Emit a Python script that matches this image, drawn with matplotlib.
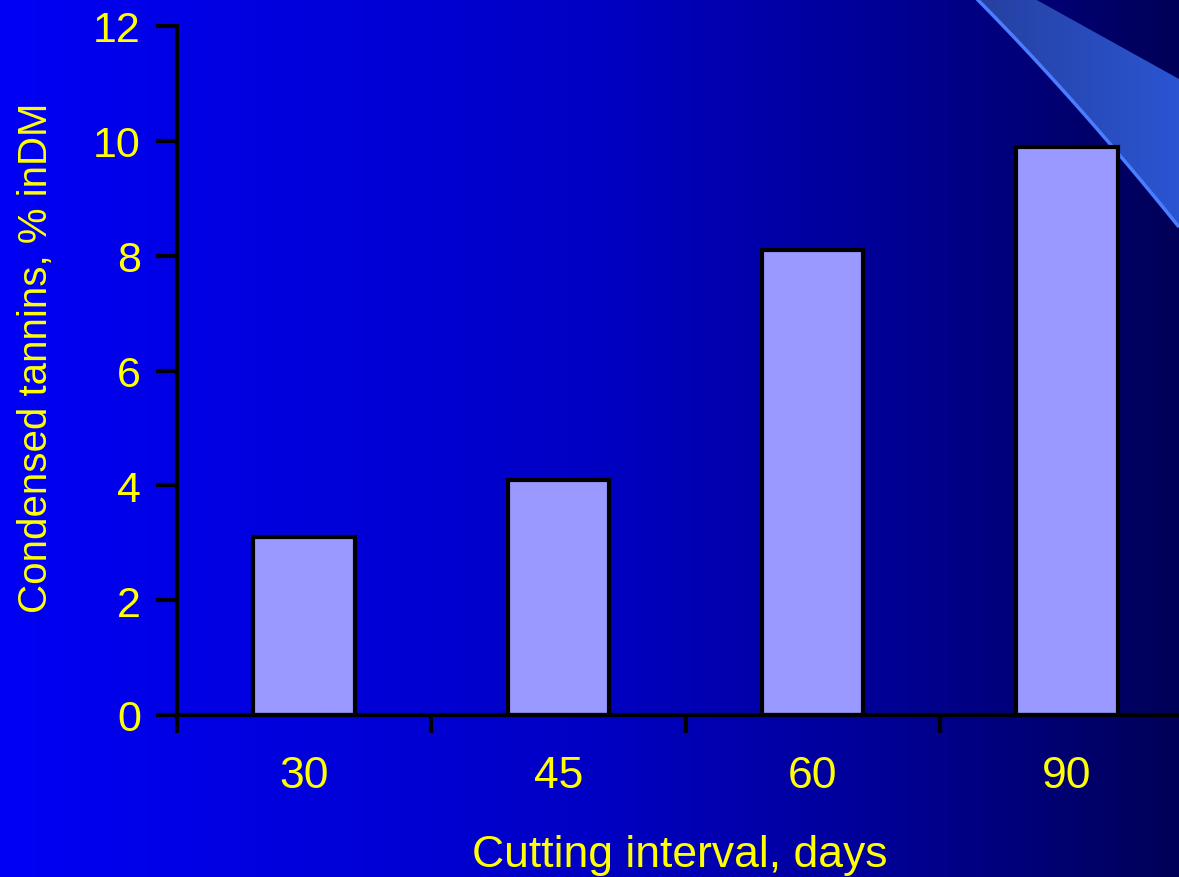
import numpy as np
import matplotlib.pyplot as plt
from matplotlib.colors import LinearSegmentedColormap
from matplotlib.patches import Polygon

plt.rcParams['font.family'] = ['Liberation Sans', 'DejaVu Sans']

intervals = ["30", "45", "60", "90"]
tannins = [3.1, 4.1, 8.1, 9.9]

W, H = 1179, 878
fig = plt.figure(figsize=(W / 100, H / 100), dpi=100)

# backdrop: horizontal blue gradient plus the swoosh in the corner
bg = fig.add_axes([0, 0, 1, 1], zorder=0)
bg.set_axis_off()
cmap = LinearSegmentedColormap.from_list(
    "slide", [(0.0, "#0000f5"), (0.5, "#0000c4"), (0.75, "#000096"), (1.0, "#000058")])
grad = np.linspace(0, 1, 512).reshape(1, -1)
bg.imshow(grad, cmap=cmap, aspect="auto", extent=[0, W, H, 0])

dx = np.linspace(0, 202, 60)
edge_x = 977 + dx
edge_y = 1.013 * dx + 0.000573 * dx ** 2
swoosh = Polygon(list(zip(edge_x, edge_y)) + [(1179, 80), (1035, 0)],
                 closed=True, facecolor="none", edgecolor="none")
bg.add_patch(swoosh)
sw_cmap = LinearSegmentedColormap.from_list("sw", ["#2640a0", "#2a55d2"])
sw = bg.imshow(np.linspace(0, 1, 128).reshape(1, -1), cmap=sw_cmap, aspect="auto",
               extent=[977, 1179, 228, 0])
sw.set_clip_path(swoosh)
bg.plot(edge_x, edge_y, color="#4a7dff", lw=2.5, solid_capstyle="butt")
bg.set_xlim(0, W)
bg.set_ylim(H, 0)

# bar chart
ax = fig.add_axes([177 / W, 1 - 716 / H, 1017 / W, 689 / H], zorder=1)
ax.patch.set_alpha(0)
x = np.arange(len(intervals))
ax.bar(x, tannins, width=0.4, color="#9999ff", edgecolor="black", linewidth=3, zorder=3)

ax.set_xlim(-0.5, 3.5)
ax.set_ylim(0, 12)
ax.set_yticks(range(0, 13, 2))
ax.set_xticks(x)
ax.set_xticklabels(intervals)
ax.set_xticks(np.arange(-0.5, 4, 1), minor=True)

for side in ("top", "right"):
    ax.spines[side].set_visible(False)
for side in ("left", "bottom"):
    ax.spines[side].set_linewidth(3)
    ax.spines[side].set_color("black")
ax.spines["bottom"].set_zorder(4)

ax.tick_params(axis="y", length=15, width=3, colors="black", labelcolor="yellow",
               labelsize=31, pad=11)
ax.tick_params(axis="x", which="major", length=0, labelcolor="yellow",
               labelsize=32, pad=29)
ax.tick_params(axis="x", which="minor", length=13, width=3, colors="black")

fig.text(36 / W, 1 - 358 / H, "Condensed tannins, % inDM", color="yellow",
         fontsize=29, rotation=90, ha="center", va="center")
fig.text(680 / W, 1 - 856 / H, "Cutting interval, days", color="yellow",
         fontsize=32, ha="center", va="center")

fig.savefig("out.png", dpi=100)
